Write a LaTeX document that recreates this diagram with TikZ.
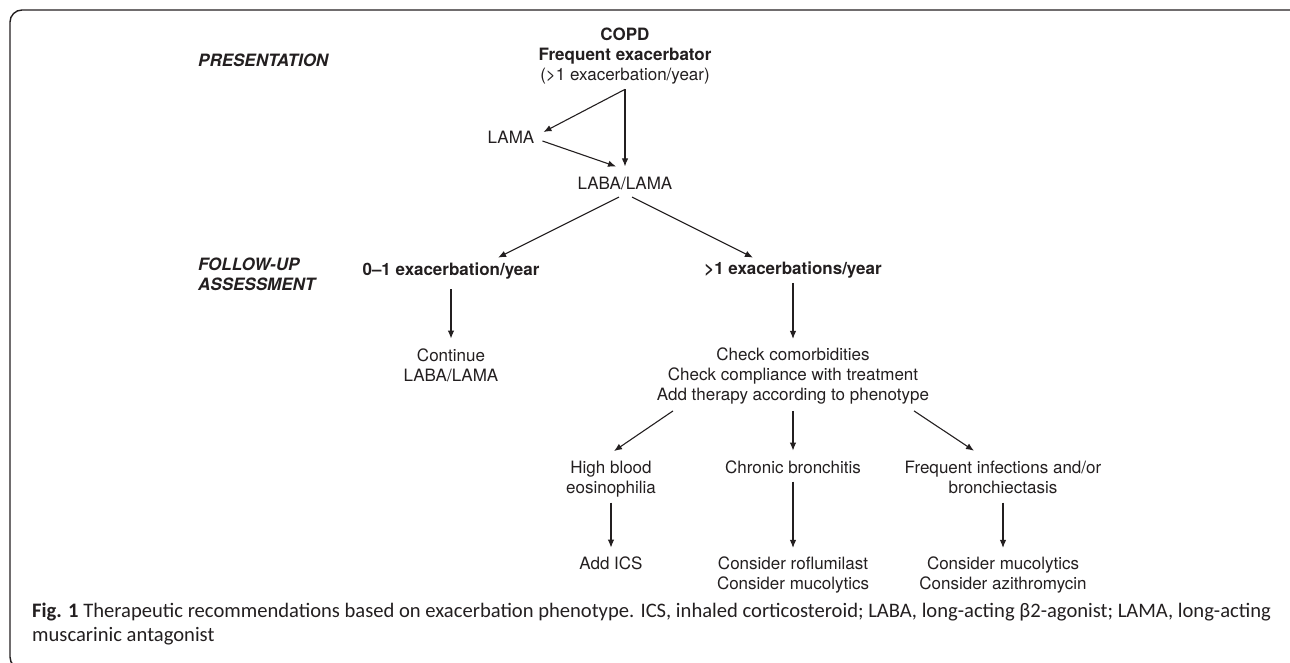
\documentclass[tikz,border=0pt]{standalone}
\usepackage{fontspec}
\setmainfont{TeX Gyre Heros}
\newfontfamily\capfont{Carlito}
\usepackage{xcolor}
\usepackage{tikz}
\usetikzlibrary{positioning,arrows.meta}
\definecolor{ink}{HTML}{231F20}

\begin{document}
\begin{tikzpicture}[x=1pt, y=-1pt, node distance={96pt}, color=ink,
		lbl/.style = {align=center, inner sep=3pt, font=\fontsize{17}{20}\selectfont},
		head/.style = {lbl, font=\fontsize{17}{20}\selectfont\bfseries},
		stage/.style = {anchor=west, align=left, inner sep=3pt, font=\fontsize{17}{20}\selectfont\bfseries\itshape},
		arr/.style = {line width=1.1pt, -{Latex[length=8pt,width=6.5pt]}}]
		\useasboundingbox (0,0) rectangle (1290,662);
		\clip (0,0) rectangle (1290,662);
		\draw[line width=1.4pt, rounded corners=12pt] (10,10) rectangle (1304,669);

		\node[stage] (pres) at (195,60) {PRESENTATION};
		\node[stage] (fu) at (195,274) {FOLLOW-UP\\ASSESSMENT};

		\node[head] (copd) at (625,56) {COPD\\Frequent exacerbator\\{\mdseries(>1 exacerbation/year)}};
		\node[lbl] (lama) at (511,137) {LAMA};
		\node[lbl] (laba) [below of=copd, node distance=127pt] {LABA/LAMA};

		\node[head] (low) at (451,271) {0--1 exacerbation/year};
		\node[head] (high) at (793,270) {>1 exacerbations/year};
		\node[lbl] (cont) [below of=low, node distance=94pt] {Continue\\LABA/LAMA};
		\node[lbl] (check) [below of=high, node distance=106pt] {Check comorbidities\\Check compliance with treatment\\Add therapy according to phenotype};

		\node[lbl] (eos) at (611,479) {High blood\\eosinophilia};
		\node[lbl] (chron) at (793,467) {Chronic bronchitis};
		\node[lbl] (inf) at (1003,477) {Frequent infections and/or\\bronchiectasis};
		\node[lbl] (ics) [below of=eos, node distance=84pt] {Add ICS};
		\node[lbl] (rof) [below of=chron, node distance=108pt] {Consider roflumilast\\Consider mucolytics};
		\node[lbl] (muc) [below of=inf, node distance=98pt] {Consider mucolytics\\Consider azithromycin};

		\node[anchor=north west, align=left, inner sep=0pt, font=\capfont\fontsize{20.6}{24}\selectfont] (cap) at (32,603)
			{\textbf{Fig. 1} Therapeutic recommendations based on exacerbation phenotype. ICS, inhaled corticosteroid; LABA, long-acting β2-agonist; LAMA, long-acting\\muscarinic antagonist};

		% presentation
		\draw[arr] ([yshift=-2pt]copd.south) -- ([xshift=6pt,yshift=5pt]lama.east);
		\draw[arr] ([yshift=-2pt]copd.south) -- ([yshift=7pt]laba.north);
		\draw[arr] ([xshift=5pt,yshift=-4pt]lama.east) -- ([xshift=-9pt,yshift=7pt]laba.north);
		\draw[arr] ([xshift=-6pt,yshift=-4.5pt]laba.south) -- ([xshift=47pt,yshift=2pt]low.north);
		\draw[arr] ([xshift=7pt,yshift=-4.5pt]laba.south) -- ([xshift=-40pt,yshift=1pt]high.north);

		% follow-up
		\draw[arr] ([yshift=-7pt]low.south) -- ([yshift=6.7pt]cont.north);
		\draw[arr] ([yshift=-1.5pt]high.south) -- ([yshift=5.7pt]check.north);
		\draw[arr] ([xshift=-120pt,yshift=-3.5pt]check.south) -- ([xshift=3pt,yshift=6.7pt]eos.north);
		\draw[arr] ([yshift=-3.5pt]check.south) -- ([yshift=6.7pt]chron.north);
		\draw[arr] ([xshift=121pt,yshift=-3.5pt]check.south) -- ([xshift=-29pt,yshift=6.7pt]inf.north);
		\draw[arr] ([yshift=-2.4pt]eos.south) -- ([yshift=5.7pt]ics.north);
		\draw[arr] ([yshift=-5pt]chron.south) -- ([yshift=5.7pt]rof.north);
		\draw[arr] ([yshift=-6pt]inf.south) -- ([yshift=5.7pt]muc.north);
	\end{tikzpicture}
\end{document}
